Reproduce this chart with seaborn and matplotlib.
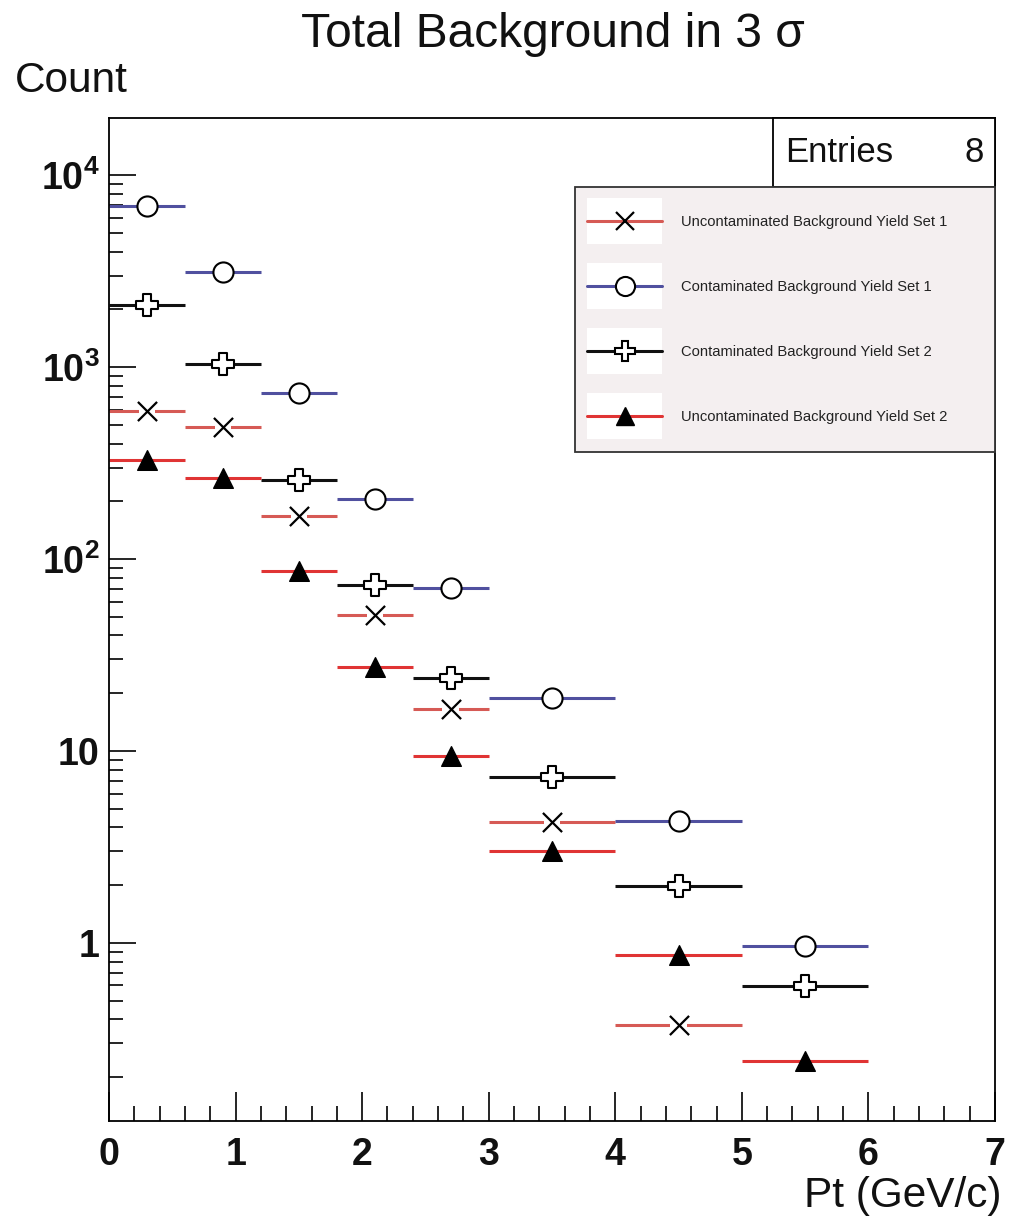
import numpy as np
import pandas as pd
import seaborn as sns
import matplotlib
matplotlib.use("Agg")
import matplotlib.pyplot as plt
from matplotlib.ticker import FixedLocator, MultipleLocator, LogLocator, NullFormatter
from matplotlib.legend_handler import HandlerLine2D
from matplotlib.lines import Line2D
from matplotlib.patches import Rectangle

# ---------------- data ----------------
bin_edges = [0.0, 0.6, 1.2, 1.8, 2.4, 3.0, 4.0, 5.0, 6.0]
uncontam_set1 = [589, 489, 167, 51.4, 16.6, 4.28, 0.373, np.nan]
contam_set1 = [6940, 3140, 733, 205, 70.4, 19.0, 4.33, 0.965]
contam_set2 = [2120, 1040, 259, 73.3, 24.1, 7.35, 1.97, 0.594]
uncontam_set2 = [327, 266, 86.8, 27.4, 9.46, 3.0, 0.866, 0.243]
series_names = ["Uncontaminated Background Yield Set 1",
                "Contaminated Background Yield Set 1",
                "Contaminated Background Yield Set 2",
                "Uncontaminated Background Yield Set 2"]
y_tick_values = [1, 10, 100, 1000, 10000]
y_tick_labels = ["1", "10", r"$\mathbf{10^{2}}$", r"$\mathbf{10^{3}}$", r"$\mathbf{10^{4}}$"]
n_entries = 8

# ---------------- style ----------------
sns.set_style("white")
plt.rcParams["font.family"] = ["Liberation Sans", "DejaVu Sans"]
plt.rcParams["mathtext.fontset"] = "custom"
plt.rcParams["mathtext.rm"] = "Liberation Sans"
plt.rcParams["mathtext.bf"] = "Liberation Sans:bold"
plt.rcParams["mathtext.it"] = "Liberation Sans:italic"

edges = np.array(bin_edges)
centers = 0.5 * (edges[:-1] + edges[1:])
halfw = 0.5 * (edges[1:] - edges[:-1])

fig = plt.figure(figsize=(10.10, 12.27), dpi=100)
ax = fig.add_axes([109 / 1010, 1 - 1121 / 1227, 886 / 1010, 1003 / 1227])

styles = [
    dict(data=uncontam_set1, lcolor="#d65a55", marker="x", face="black", edge="black", s=190, lw=1.6),
    dict(data=contam_set1, lcolor="#50509f", marker="o", face="white", edge="black", s=210, lw=1.5),
    dict(data=contam_set2, lcolor="#111111", marker="P", face="white", edge="black", s=230, lw=1.5),
    dict(data=uncontam_set2, lcolor="#e03434", marker="^", face="black", edge="black", s=200, lw=1.0),
]

for st in styles:
    vals = np.array(st["data"], dtype=float)
    ax.errorbar(centers, vals, xerr=halfw, fmt="none", ecolor=st["lcolor"],
                elinewidth=2.2, capsize=0, zorder=2)
    df = pd.DataFrame({"x": centers, "y": vals}).dropna()
    if st["marker"] == "x":
        sns.scatterplot(data=df, x="x", y="y", ax=ax, marker="s", color="white",
                        edgecolor="none", s=st["s"] * 0.75, zorder=3, legend=False)
        sns.scatterplot(data=df, x="x", y="y", ax=ax, marker="x", color="black",
                        s=st["s"], linewidth=st["lw"], zorder=4, legend=False)
    else:
        sns.scatterplot(data=df, x="x", y="y", ax=ax, marker=st["marker"], color=st["face"],
                        edgecolor=st["edge"], s=st["s"], linewidth=st["lw"], zorder=4, legend=False)

ax.set_yscale("log")
ax.set_xlim(0, 7)
ax.set_ylim(0.118, 1.99e4)
ax.set_xlabel("")
ax.set_ylabel("")

ax.yaxis.set_major_locator(FixedLocator(y_tick_values))
ax.set_yticklabels(y_tick_labels)
ax.yaxis.set_minor_locator(LogLocator(base=10, subs=np.arange(2, 10)))
ax.yaxis.set_minor_formatter(NullFormatter())
ax.xaxis.set_major_locator(MultipleLocator(1))
ax.xaxis.set_minor_locator(MultipleLocator(0.2))

ax.tick_params(axis="x", which="major", direction="in", length=21, width=1.2,
               labelsize=27, pad=11.5, bottom=True, top=False, color="black")
ax.tick_params(axis="x", which="minor", direction="in", length=10.5, width=1.2,
               bottom=True, top=False, color="black")
ax.tick_params(axis="y", which="major", direction="in", length=19.5, width=1.2,
               labelsize=27, pad=7, left=True, right=False, color="black")
ax.tick_params(axis="y", which="minor", direction="in", length=10, width=1.2,
               left=True, right=False, color="black")
for lab in ax.get_xticklabels() + ax.get_yticklabels():
    lab.set_fontweight("bold")
    lab.set_color("#111111")
for sp in ax.spines.values():
    sp.set_visible(True)
    sp.set_color("black")
    sp.set_linewidth(1.3)

# stats box
ax.add_patch(Rectangle((0.7494, 0.9312), 1 - 0.7494, 1 - 0.9312, transform=ax.transAxes,
                       facecolor="white", edgecolor="black", linewidth=1.3, zorder=5, clip_on=False))
ax.text(0.763, 0.966, "Entries", transform=ax.transAxes, fontsize=25, va="center",
        ha="left", zorder=6, color="#111111")
ax.text(0.987, 0.966, f"{n_entries}", transform=ax.transAxes, fontsize=25, va="center",
        ha="right", zorder=6, color="#111111")


class BoxedHandler(HandlerLine2D):
    def create_artists(self, legend, orig_handle, xdescent, ydescent, width, height,
                       fontsize, trans):
        arts = super().create_artists(legend, orig_handle, xdescent, ydescent, width,
                                      height, fontsize, trans)
        line_y = 0.33 * fontsize
        for a in arts:
            xd = np.asarray(a.get_xdata(), dtype=float)
            a.set_ydata(np.full_like(xd, line_y))
        r = Rectangle((-xdescent, line_y - height / 2), width, height, facecolor="white",
                      edgecolor="none", transform=trans)
        return [r] + list(arts)


handles = []
for st in styles:
    h = Line2D([], [], color=st["lcolor"], lw=2.2, marker=st["marker"],
               markerfacecolor=st["face"], markeredgecolor=st["edge"],
               markersize=np.sqrt(st["s"]) * 0.95, markeredgewidth=st["lw"])
    handles.append(h)

leg = ax.legend(handles, series_names, loc="upper left",
                bbox_to_anchor=(0.526, 0.667, 0.474, 0.2642), mode="expand",
                borderaxespad=0, fontsize=10.6, handlelength=5.1, handleheight=4.43,
                labelspacing=1.29, borderpad=0.81, handletextpad=1.29,
                frameon=True, fancybox=False, framealpha=1,
                handler_map={Line2D: BoxedHandler()})
leg.get_frame().set_facecolor("#f4eff0")
leg.get_frame().set_edgecolor("#333333")
leg.get_frame().set_linewidth(1.3)
leg.set_zorder(6)
for t in leg.get_texts():
    t.set_color("#222222")

fig.text(0.5475, 1 - 47 / 1227, "Total Background in 3 σ", fontsize=34.5, ha="center",
         va="baseline", color="#111111")
fig.text(15 / 1010, 1 - 92 / 1227, "Count", fontsize=30.5, ha="left", va="baseline",
         color="#111111")
fig.text(1001 / 1010, 1 - 1207 / 1227, "Pt (GeV/c)", fontsize=30.5, ha="right",
         va="baseline", color="#111111")

fig.savefig("out.png", dpi=100)
